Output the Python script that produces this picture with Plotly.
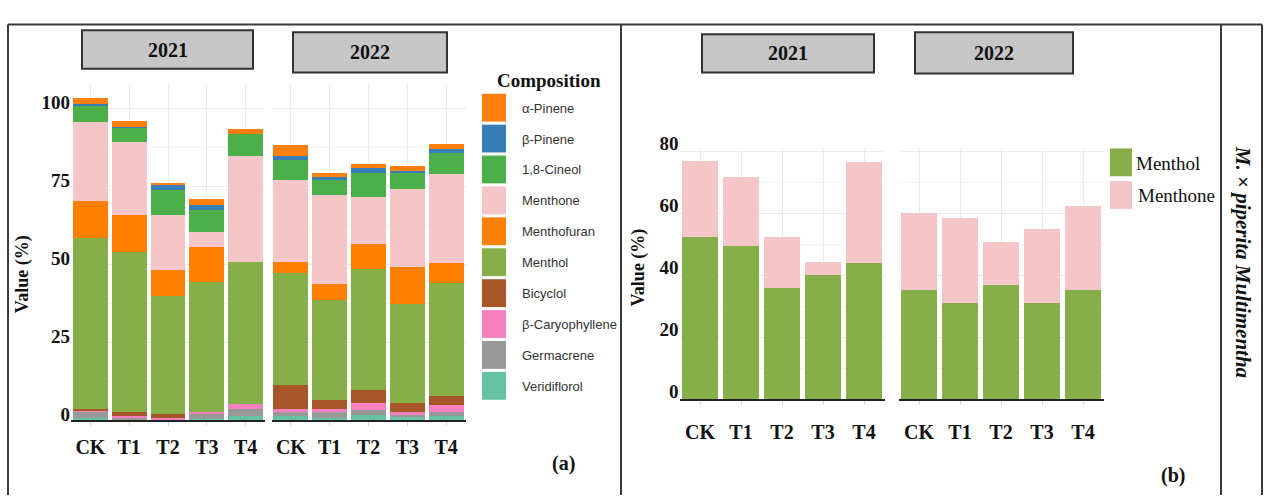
import plotly.graph_objects as go

W, H = 1265, 500


def fx(x):
    return x / W


def fy(y):
    return 1 - y / H


treatments = ["CK", "T1", "T2", "T3", "T4"]
years = ["2021", "2022"]

# Panel (a): essential-oil composition (%), stacked bottom to top
veridiflorol_2021 = [0.7, 0.3, 0.1, 0.5, 1.2]
veridiflorol_2022 = [1.2, 0.7, 1.5, 1.0, 1.2]
germacrene_2021 = [1.9, 0.3, 0.1, 1.5, 2.4]
germacrene_2022 = [1.5, 2.0, 1.8, 0.8, 1.5]
caryophyllene_2021 = [0.3, 0.8, 0.6, 0.5, 1.5]
caryophyllene_2022 = [1.0, 1.0, 2.2, 0.8, 2.2]
bicyclol_2021 = [0.8, 1.1, 1.3, 0.0, 0.0]
bicyclol_2022 = [7.7, 2.6, 4.3, 2.9, 2.8]
menthol_2021 = [54.6, 51.3, 37.6, 41.8, 45.6]
menthol_2022 = [35.9, 32.3, 38.5, 31.8, 36.1]
menthofuran_2021 = [11.8, 12.1, 8.5, 11.2, 0.0]
menthofuran_2022 = [3.4, 5.1, 8.2, 11.7, 6.5]
menthone_2021 = [25.6, 23.1, 17.4, 4.7, 34.1]
menthone_2022 = [26.2, 28.5, 15.1, 25.1, 28.5]
cineol_2021 = [5.1, 4.8, 8.0, 7.3, 6.8]
cineol_2022 = [6.5, 4.8, 7.7, 5.1, 6.7]
b_pinene_2021 = [0.5, 0.2, 1.7, 1.6, 0.0]
b_pinene_2022 = [1.4, 0.8, 1.6, 0.8, 1.4]
a_pinene_2021 = [2.1, 2.0, 0.8, 1.8, 1.8]
a_pinene_2022 = [3.4, 1.5, 1.2, 1.5, 1.6]

# Panel (b): menthol and menthone (%)
menthol_b_2021 = [52.5, 49.4, 36.0, 40.1, 44.1]
menthol_b_2022 = [35.1, 31.1, 37.0, 31.1, 35.1]
menthone_b_2021 = [24.5, 22.3, 16.5, 4.3, 32.6]
menthone_b_2022 = [25.1, 27.3, 13.9, 23.9, 27.3]

components = [
    ("Veridiflorol", veridiflorol_2021, veridiflorol_2022, "#66C2A5"),
    ("Germacrene", germacrene_2021, germacrene_2022, "#999999"),
    ("β-Caryophyllene", caryophyllene_2021, caryophyllene_2022, "#F781BF"),
    ("Bicyclol", bicyclol_2021, bicyclol_2022, "#A65628"),
    ("Menthol", menthol_2021, menthol_2022, "#86AF49"),
    ("Menthofuran", menthofuran_2021, menthofuran_2022, "#FF7F00"),
    ("Menthone", menthone_2021, menthone_2022, "#F5C6C7"),
    ("1,8-Cineol", cineol_2021, cineol_2022, "#4DAF4A"),
    ("β-Pinene", b_pinene_2021, b_pinene_2022, "#377EB8"),
    ("α-Pinene", a_pinene_2021, a_pinene_2022, "#FF7F0E"),
]

GREEN = "#86AF49"
PINK = "#F5C6C7"
SERIF = "Liberation Serif"
SANS = "Liberation Sans"
GRID = "#ebebeb"
FRAME = "#3a3a3a"

fig = go.Figure()

for name, v21, v22, col in components:
    for vals, xa in ((v21, "x"), (v22, "x2")):
        fig.add_trace(go.Bar(
            x=treatments, y=vals, name=name, xaxis=xa, yaxis="y",
            marker=dict(color=col, line=dict(width=0)), width=0.9,
            showlegend=False,
        ))

for name, v21, v22, col in (
    ("Menthol", menthol_b_2021, menthol_b_2022, GREEN),
    ("Menthone", menthone_b_2021, menthone_b_2022, PINK),
):
    for vals, xa in ((v21, "x3"), (v22, "x4")):
        fig.add_trace(go.Bar(
            x=treatments, y=vals, name=name, xaxis=xa, yaxis="y2",
            marker=dict(color=col, line=dict(width=0)), width=0.9,
            showlegend=False,
        ))


def xaxis(left, right, anchor, standoff):
    return dict(
        domain=[fx(left), fx(right)], anchor=anchor,
        type="category", range=[-0.5, 4.5],
        showgrid=True, gridcolor=GRID, gridwidth=1,
        showline=True, linecolor="#222222", linewidth=2,
        ticks="outside", ticklen=4, tickcolor="#d8d8d8",
        ticklabelstandoff=standoff,
        tickfont=dict(family=SERIF, size=20, color="#111111", weight="bold"),
        zeroline=False, fixedrange=True,
    )


layout = dict(
    width=W, height=H,
    margin=dict(l=0, r=0, t=0, b=0),
    paper_bgcolor="white", plot_bgcolor="white",
    barmode="stack", bargap=0.1, showlegend=False,
    xaxis=xaxis(71, 265, "y", 4),
    xaxis2=xaxis(271.5, 465.5, "y", 4),
    xaxis3=xaxis(679.5, 884.5, "y2", 10),
    xaxis4=xaxis(898.5, 1103.5, "y2", 10),
    yaxis=dict(
        domain=[fy(422), fy(71)], anchor="x", range=[0, 108],
        tickmode="linear", tick0=0, dtick=25,
        showgrid=True, gridcolor=GRID, zeroline=False, showline=False,
        minor=dict(dtick=12.5, showgrid=True, gridcolor="#f4f4f4"),
        ticklabelshift=-6,
        tickfont=dict(family=SERIF, size=19, color="#111111", weight="bold"),
        fixedrange=True,
    ),
    yaxis2=dict(
        domain=[fy(400), fy(139)], anchor="x3", range=[0, 81],
        tickmode="linear", tick0=0, dtick=20,
        showgrid=True, gridcolor=GRID, zeroline=False, showline=False,
        minor=dict(dtick=10, showgrid=True, gridcolor="#f4f4f4"),
        ticklabelshift=-8,
        tickfont=dict(family=SERIF, size=19, color="#111111", weight="bold"),
        fixedrange=True,
    ),
)
fig.update_layout(**layout)

shapes = []
annotations = []


def rect(x0, y0, x1, y1, fill, line_color=None, line_width=0):
    shapes.append(dict(
        type="rect", xref="paper", yref="paper",
        x0=fx(x0), x1=fx(x1), y0=fy(y1), y1=fy(y0),
        fillcolor=fill, layer="above",
        line=dict(color=line_color or fill, width=line_width),
    ))


def line(x0, y0, x1, y1, color=FRAME, width=2):
    shapes.append(dict(
        type="line", xref="paper", yref="paper",
        x0=fx(x0), x1=fx(x1), y0=fy(y0), y1=fy(y1),
        line=dict(color=color, width=width), layer="above",
    ))


def text(x, y, s, size, family=SERIF, bold=False, angle=0, xanchor="center",
         color="#111111"):
    annotations.append(dict(
        x=fx(x), y=fy(y), xref="paper", yref="paper", text=s,
        showarrow=False, textangle=angle, xanchor=xanchor, yanchor="middle",
        font=dict(family=family, size=size, color=color,
                  weight="bold" if bold else "normal"),
    ))


# Outer frame and panel dividers
line(8, 10, 1262, 10)
line(8, 10, 8, 500)
line(621, 10, 621, 500)
line(1221, 10, 1221, 500)
line(1262, 10, 1262, 500)

# Year strips
for (x0, y0, x1, y1), label in zip(
    [(82, 16, 253, 56), (293, 18, 447, 60), (702, 20, 874, 60), (915, 18, 1073, 61)],
    years * 2,
):
    rect(x0, y0, x1, y1, "#C6C6C6", "#333333", 2)
    text((x0 + x1) / 2, (y0 + y1) / 2, label, 20, bold=True)

# Axis titles
text(22, 270, "Value (%)", 18, bold=True, angle=-90)
text(638, 263, "Value (%)", 18, bold=True, angle=-90)

# Panel (a) legend
text(549, 68, "Composition", 19, bold=True)
for i, (name, _, _, col) in enumerate(reversed(components)):
    top = 82 + i * 32.2
    rect(482, top, 506, top + 29, col)
    text(520, top + 15, name, 13, family=SANS, xanchor="left", color="#333333")

# Panel (b) legend
rect(1110, 139, 1132, 168, GREEN)
rect(1110, 173, 1132, 202, PINK)
text(1134, 155, "Menthol", 19, xanchor="left")
text(1136, 188, "Menthone", 19, xanchor="left")

# Species label and panel tags
text(1243, 257, "<b><i>M.</i> × <i>piperita Multimentha</i></b>", 21, angle=90)
text(563, 467, "(a)", 20, bold=True)
text(1173, 480, "(b)", 20, bold=True)

fig.update_layout(shapes=shapes, annotations=annotations)
fig.write_html("out.html")
